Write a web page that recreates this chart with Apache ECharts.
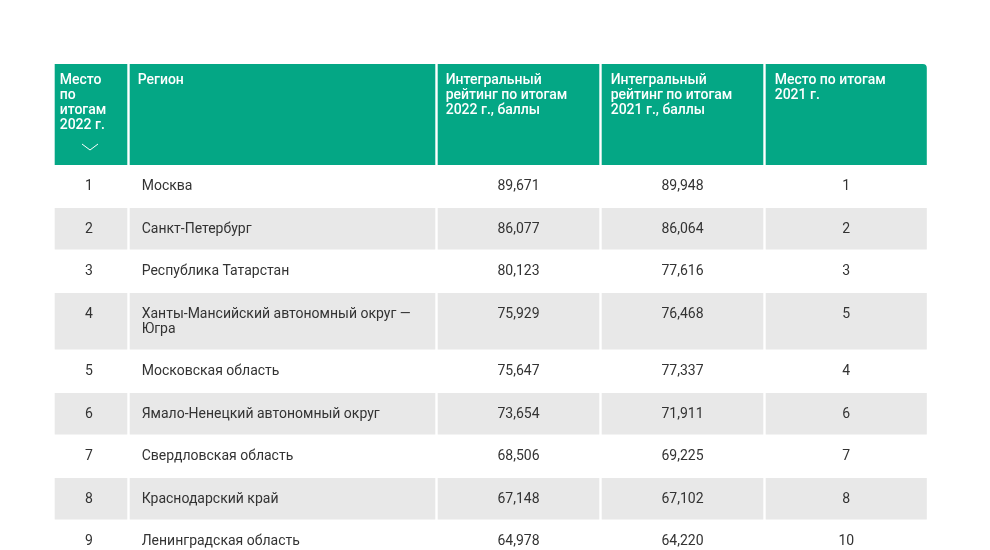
<!DOCTYPE html>
<html>
<head>
<meta charset="utf-8">
<script src="https://cdn.jsdelivr.net/npm/echarts@6/dist/echarts.min.js"></script>
<style>
html,body{margin:0;padding:0;background:#fff;}
#chart{width:990px;height:550px;}
</style>
</head>
<body>
<div id="chart"></div>
<script>
// ---- data ----
const headers = [
  'Место\nпо\nитогам\n2022 г.',
  'Регион',
  'Интегральный\nрейтинг по итогам\n2022 г., баллы',
  'Интегральный\nрейтинг по итогам\n2021 г., баллы',
  'Место по итогам\n2021 г.'
];
const rank2022 = [1, 2, 3, 4, 5, 6, 7, 8, 9];
const regions = [
  'Москва',
  'Санкт-Петербург',
  'Республика Татарстан',
  'Ханты-Мансийский автономный округ — Югра',
  'Московская область',
  'Ямало-Ненецкий автономный округ',
  'Свердловская область',
  'Краснодарский край',
  'Ленинградская область'
];
const score2022 = [89.671, 86.077, 80.123, 75.929, 75.647, 73.654, 68.506, 67.148, 64.978];
const score2021 = [89.948, 86.064, 77.616, 76.468, 77.337, 71.911, 69.225, 67.102, 64.220];
const rank2021 = [1, 2, 3, 5, 4, 6, 7, 8, 10];

// ---- layout ----
const colEdges = [0, 75, 383, 547, 711, 874.5];
const colShift = [-2, 0, 0, 0, 0];
const headerH = 101;
const rowBaseH = 42.5;
const lineH = 15;
const regionWrap = 285;
const FONT = 'Roboto, "Noto Sans", sans-serif';
const BODY_FONT = '14px ' + FONT;
const HEAD_FONT = '500 14px ' + FONT;
const HEAD_BG = '#04a785';
const ZEBRA = '#e8e8e8';
const TXT = '#333333';

const ctx = document.createElement('canvas').getContext('2d');
ctx.font = BODY_FONT;
function wrap(s) {
  const words = s.split(' ');
  const lines = [];
  let cur = '';
  words.forEach(wd => {
    const test = cur ? cur + ' ' + wd : wd;
    if (cur && ctx.measureText(test).width > regionWrap) {
      lines.push(cur);
      cur = wd;
    } else {
      cur = test;
    }
  });
  if (cur) lines.push(cur);
  return lines;
}
const fmt = v => v.toFixed(3).replace('.', ',');

const wrapped = regions.map(wrap);
const rowTops = [0];
const rowBottoms = [headerH];
wrapped.forEach(lines => {
  const top = rowBottoms[rowBottoms.length - 1];
  rowTops.push(top);
  rowBottoms.push(top + rowBaseH + (lines.length - 1) * lineH);
});

function cellText(c, r) {
  if (r === 0) return headers[c];
  const i = r - 1;
  return [String(rank2022[i]), wrapped[i].join('\n'), fmt(score2022[i]), fmt(score2021[i]), String(rank2021[i])][c];
}

const cells = [];
for (let r = 0; r <= regions.length; r++) {
  for (let c = 0; c < headers.length; c++) cells.push([c, r]);
}

function renderItem(params, api) {
  const c = api.value(0), r = api.value(1);
  const p0 = api.coord([colEdges[c], rowTops[r]]);
  const p1 = api.coord([colEdges[c + 1], rowBottoms[r]]);
  const x = p0[0] + 1.2, w = p1[0] - p0[0] - 2.4;
  const y = p0[1], h = p1[1] - p0[1];
  const children = [];
  const isHead = r === 0;
  const zebra = !isHead && r % 2 === 0;
  if (isHead || zebra) {
    children.push({
      type: 'rect',
      shape: { x: x, y: y + (isHead ? 0 : 0.6), width: w, height: h - (isHead ? 0 : 1.2),
               r: isHead && c === headers.length - 1 ? [0, 4, 0, 0] : 0 },
      style: { fill: isHead ? HEAD_BG : ZEBRA }
    });
  }
  const text = cellText(c, r);
  if (isHead) {
    const pads = [5, 8, 8, 9, 9];
    children.push({
      type: 'text',
      style: {
        text: text, x: x + pads[c], y: y + 8.5,
        fill: '#ffffff', font: HEAD_FONT,
        align: 'left', verticalAlign: 'top', lineHeight: 15
      }
    });
    if (c === 0) {
      const cx = x + w / 2 - 1;
      children.push({
        type: 'polyline',
        shape: { points: [[cx - 8, y + 80], [cx, y + 86], [cx + 8, y + 80]] },
        style: { stroke: '#ffffff', lineWidth: 1, fill: null }
      });
    }
  } else {
    const left = c === 1;
    children.push({
      type: 'text',
      style: {
        text: text,
        x: left ? x + 12 : x + w / 2 + colShift[c],
        y: y + 14,
        fill: TXT, font: BODY_FONT,
        align: left ? 'left' : 'center', verticalAlign: 'top', lineHeight: lineH
      }
    });
  }
  return { type: 'group', children: children };
}

const chart = echarts.init(document.getElementById('chart'), null, { renderer: 'canvas' });
chart.setOption({
  animation: false,
  backgroundColor: '#ffffff',
  grid: { left: 53.5, right: 62, top: 64, bottom: 0 },
  xAxis: { type: 'value', min: 0, max: colEdges[colEdges.length - 1], show: false },
  yAxis: { type: 'value', min: 0, max: 486, inverse: true, show: false },
  series: [{
    type: 'custom',
    renderItem: renderItem,
    clip: false,
    data: cells,
    silent: true
  }]
});
</script>
</body>
</html>
